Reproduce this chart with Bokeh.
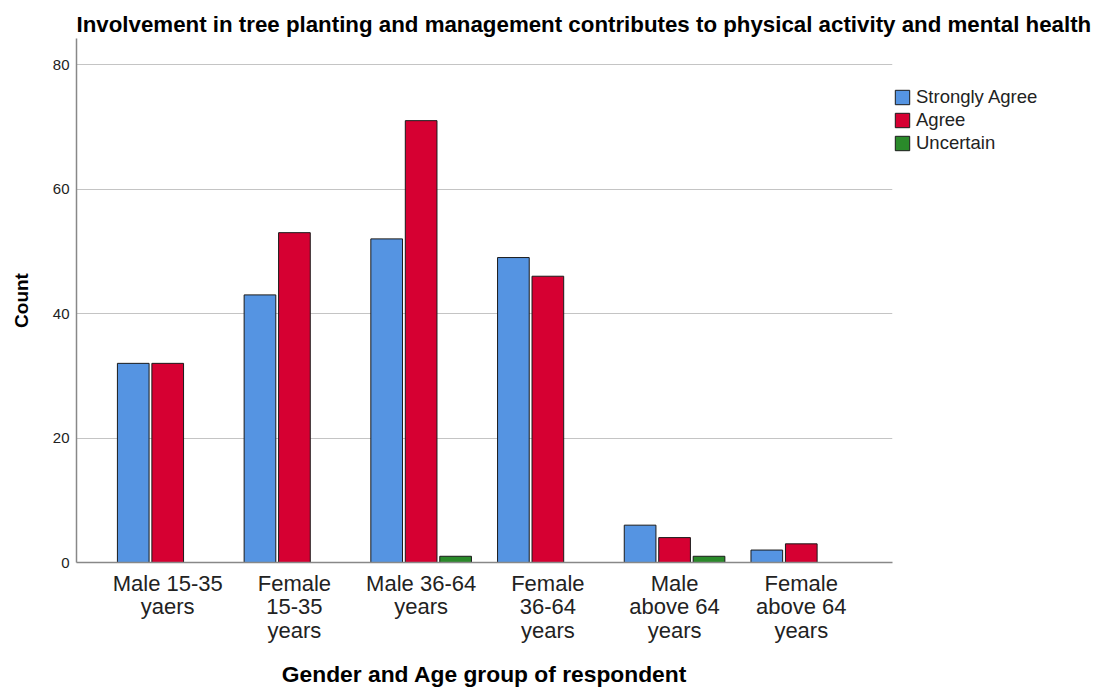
from bokeh.plotting import figure
from bokeh.models import ColumnDataSource, FactorRange, Range1d, Legend, LegendItem, Title, Spacer
from bokeh.layouts import row
from bokeh.transform import dodge
from bokeh.embed import file_html
from bokeh.resources import INLINE

categories = ["Male 15-35\nyaers", "Female\n15-35\nyears", "Male 36-64\nyears",
              "Female\n36-64\nyears", "Male\nabove 64\nyears", "Female\nabove 64\nyears"]
strongly_agree = [32, 43, 52, 49, 6, 2]
agree = [32, 53, 71, 46, 4, 3]
uncertain = [0, 0, 1, 0, 1, 0]
series_names = ["Strongly Agree", "Agree", "Uncertain"]
series_colors = ["#5594E2", "#D60032", "#2A8A2A"]

source = ColumnDataSource(dict(cat=categories, sa=strongly_agree, ag=agree, un=uncertain))

FONT = "Liberation Sans"

p = figure(
    x_range=FactorRange(factors=categories, range_padding=0.0733, range_padding_units="percent"),
    y_range=Range1d(0, 84.2),
    frame_width=816, frame_height=524,
    output_backend="svg", toolbar_location=None,
    min_border_left=60, min_border_right=200, min_border_top=38, min_border_bottom=111,
    outline_line_color=None,
)
p.title = Title(text="Involvement in tree planting and management contributes to physical activity and mental health",
                align="left", offset=0, text_font=FONT, text_font_size="22.3px",
                text_font_style="bold", text_color="#000000", standoff=4)

off = 0.272
w = 0.25
renderers = []
for col, dx, name, color in zip(["sa", "ag", "un"], [-off, 0, off], series_names, series_colors):
    r = p.vbar(x=dodge("cat", dx, range=p.x_range), top=col, width=w, source=source,
               fill_color=color, line_color="#1a1a1a", line_width=1)
    renderers.append(r)

legend = Legend(items=[LegendItem(label=n, renderers=[r]) for n, r in zip(series_names, renderers)],
                location=(1, 408), orientation="vertical",
                glyph_width=18, glyph_height=18, label_height=18, spacing=1,
                label_standoff=5, padding=0, margin=0,
                border_line_color=None, background_fill_alpha=0,
                label_text_font=FONT, label_text_font_size="18.5px", label_text_color="#222222")
p.add_layout(legend, "right")

p.xgrid.grid_line_color = None
p.ygrid.grid_line_color = "#c4c4c4"
p.ygrid.grid_line_width = 1
p.yaxis.ticker = [0, 20, 40, 60, 80]

for ax in (p.xaxis, p.yaxis):
    ax.axis_line_color = "#888888"
    ax.axis_line_width = 1.5
    ax.major_tick_line_color = None
    ax.minor_tick_line_color = None
    ax.major_label_text_font = FONT
    ax.major_label_text_color = "#222222"
    ax.axis_label_text_font = FONT
    ax.axis_label_text_font_style = "bold"
    ax.axis_label_text_color = "#000000"

p.yaxis.major_label_text_font_size = "15px"
p.yaxis.major_label_standoff = 1
p.yaxis.axis_label = "Count"
p.yaxis.axis_label_text_font_size = "19px"
p.yaxis.axis_label_standoff = 18

p.xaxis.major_label_text_font_size = "22px"
p.xaxis.major_label_text_line_height = 0.95
p.xaxis.major_label_standoff = 2
p.xaxis.axis_label = "Gender and Age group of respondent"
p.xaxis.axis_label_text_font_size = "22.8px"
p.xaxis.axis_label_standoff = 15

layout = row(Spacer(width=7), p)
open("out.html", "w").write(file_html(layout, INLINE))
